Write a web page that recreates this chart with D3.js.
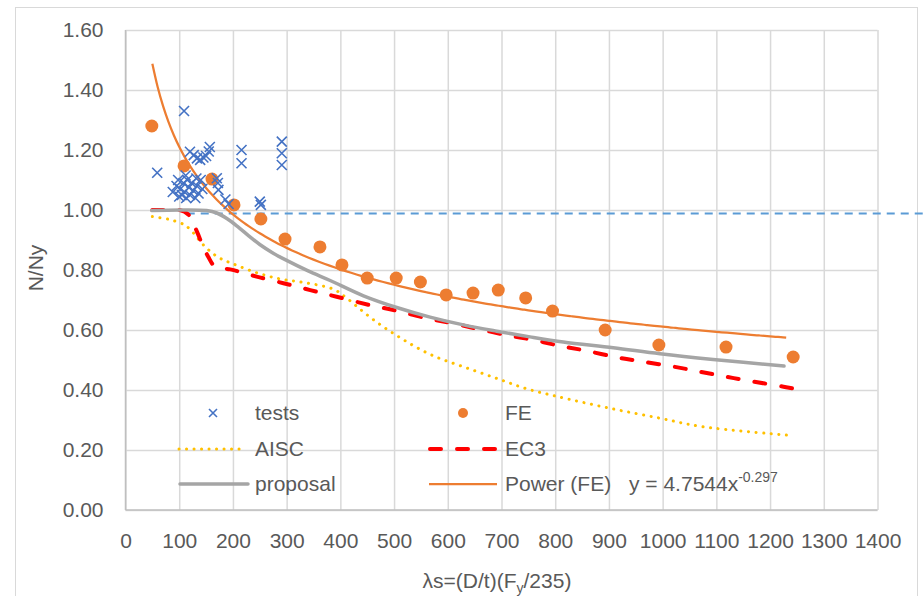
<!DOCTYPE html>
<html>
<head>
<meta charset="utf-8">
<script src="https://cdn.jsdelivr.net/npm/d3@7"></script>
<style>
  body { margin: 0; background: #fff; }
  text { font-family: "Liberation Sans", Arial, sans-serif; fill: #595959; }
</style>
</head>
<body>
<script>
// values
var xTicks = [0, 100, 200, 300, 400, 500, 600, 700, 800, 900, 1000, 1100, 1200, 1300, 1400];
var yTicks = [0, 0.2, 0.4, 0.6, 0.8, 1.0, 1.2, 1.4, 1.6];

var testsX = [59, 109, 120, 127, 133, 139, 145, 150, 155, 157, 216, 216, 291, 291, 291, 250, 252, 170, 172, 173, 186, 192,
  88, 95, 98, 102, 105, 108, 110, 113, 115, 118, 120, 123, 126, 130, 133, 136, 140, 143, 100, 112, 132];
var testsY = [1.124, 1.33, 1.194, 1.183, 1.172, 1.167, 1.175, 1.18, 1.195, 1.21, 1.20, 1.156, 1.228, 1.189, 1.15, 1.028, 1.017, 1.106, 1.09, 1.067, 1.035, 1.02,
  1.06, 1.08, 1.10, 1.07, 1.05, 1.09, 1.06, 1.04, 1.10, 1.075, 1.05, 1.09, 1.065, 1.04, 1.08, 1.055, 1.10, 1.07, 1.045, 1.115, 1.105];

var feX = [49, 109, 161, 202, 252, 297, 362, 403, 450, 504, 549, 597, 647, 694, 745, 795, 893, 993, 1118, 1243];
var feY = [1.28, 1.147, 1.103, 1.017, 0.97, 0.903, 0.877, 0.817, 0.773, 0.773, 0.76, 0.717, 0.723, 0.733, 0.707, 0.663, 0.60, 0.55, 0.543, 0.51];

var aiscX = [50, 80, 108, 120, 148, 173, 201, 244, 288, 330, 387, 412, 435, 458, 482, 508, 533, 559, 584, 641, 697, 745, 800, 902, 995, 1073, 1243];
var aiscY = [0.978, 0.969, 0.952, 0.936, 0.878, 0.842, 0.82, 0.791, 0.77, 0.759, 0.736, 0.706, 0.672, 0.639, 0.608, 0.578, 0.551, 0.526, 0.506, 0.47, 0.435, 0.405, 0.38, 0.339, 0.306, 0.278, 0.248];

var ec3X = [50, 70, 101, 117, 133, 142, 154, 167, 195, 213, 244, 294, 344, 393, 455, 505, 561, 610, 660, 710, 759, 809, 852, 915, 964, 1020, 1070, 1119, 1169, 1225, 1243];
var ec3Y = [1.0, 1.0, 1.0, 0.985, 0.928, 0.889, 0.844, 0.811, 0.802, 0.794, 0.778, 0.756, 0.733, 0.711, 0.683, 0.664, 0.639, 0.622, 0.602, 0.583, 0.567, 0.547, 0.533, 0.509, 0.494, 0.478, 0.461, 0.444, 0.428, 0.411, 0.405];

var propX = [49, 101, 151, 170, 190, 210, 230, 250, 275, 300, 340, 381, 443, 505, 567, 629, 691, 753, 815, 908, 995, 1094, 1226];
var propY = [0.998, 1.0, 0.998, 0.99, 0.97, 0.943, 0.913, 0.885, 0.856, 0.832, 0.797, 0.765, 0.714, 0.675, 0.643, 0.617, 0.596, 0.577, 0.56, 0.541, 0.521, 0.502, 0.48];

var refX = [114, 1490];
var refY = [0.988, 0.988];

// trendline shown in legend: y = 4.7544 x^-0.297
var powerCoef = [4.7544, -0.297];
var powerRange = [50, 1230];

var W = 924, H = 596;
var margin = { top: 30, right: 46.5, bottom: 86, left: 125.5 };
var width = W - margin.left - margin.right;
var height = H - margin.top - margin.bottom;

var svg = d3.select("body").append("svg")
  .attr("width", W)
  .attr("height", H);

// chart area border
svg.append("rect")
  .attr("x", 15.5).attr("y", 7.5)
  .attr("width", 902).attr("height", 620)
  .attr("fill", "none")
  .attr("stroke", "#d9d9d9");

var g = svg.append("g")
  .attr("transform", `translate(${margin.left}, ${margin.top})`);

var x = d3.scaleLinear().domain([0, 1400]).range([0, width]);
var y = d3.scaleLinear().domain([0, 1.6]).range([height, 0]);

// gridlines
g.append("g")
  .attr("transform", `translate(0, ${height})`)
  .call(d3.axisBottom(x).tickValues(xTicks).tickSize(-height).tickFormat(""))
  .call(a => a.select(".domain").remove())
  .call(a => a.selectAll("line").attr("stroke", "#d9d9d9").attr("stroke-width", 1.5));

g.append("g")
  .call(d3.axisLeft(y).tickValues(yTicks).tickSize(-width).tickFormat(""))
  .call(a => a.select(".domain").remove())
  .call(a => a.selectAll("line").attr("stroke", "#d9d9d9").attr("stroke-width", 1.5));

// axis lines
g.append("line").attr("x1", 0).attr("x2", 0).attr("y1", 0).attr("y2", height)
  .attr("stroke", "#bfbfbf").attr("stroke-width", 1.5);
g.append("line").attr("x1", 0).attr("x2", width).attr("y1", height).attr("y2", height)
  .attr("stroke", "#bfbfbf").attr("stroke-width", 1.5);

// tick labels
var xAxis = g.append("g")
  .attr("transform", `translate(0, ${height})`)
  .call(d3.axisBottom(x).tickValues(xTicks).tickSize(0).tickPadding(23).tickFormat(d3.format("d")));
xAxis.select(".domain").remove();
xAxis.selectAll("text").style("font-size", "21px").style("font-family", null).attr("fill", null);

var yAxis = g.append("g")
  .call(d3.axisLeft(y).tickValues(yTicks).tickSize(0).tickPadding(22).tickFormat(d3.format(".2f")));
yAxis.select(".domain").remove();
yAxis.selectAll("text").style("font-size", "21px").style("font-family", null).attr("fill", null);

// axis titles
svg.append("text")
  .attr("transform", "translate(43, 268) rotate(-90)")
  .attr("text-anchor", "middle")
  .style("font-size", "21px")
  .text("N/Ny");

var xt = svg.append("text")
  .attr("x", 497).attr("y", 588)
  .attr("text-anchor", "middle")
  .style("font-size", "21px");
xt.append("tspan").text("λs=(D/t)(F");
xt.append("tspan").attr("dy", 5).style("font-size", "14px").text("y");
xt.append("tspan").attr("dy", -5).text("/235)");

function pts(xs, ys) {
  return xs.map((d, i) => [d, ys[i]]);
}

var line = d3.line()
  .x(d => x(d[0]))
  .y(d => y(d[1]))
  .curve(d3.curveCatmullRom.alpha(0.5));

// reference line at 1.0 (runs past the plot area)
g.append("path")
  .datum(pts(refX, refY))
  .attr("d", d3.line().x(d => x(d[0])).y(d => y(d[1])))
  .attr("fill", "none")
  .attr("stroke", "#5b9bd5")
  .attr("stroke-width", 2)
  .attr("stroke-dasharray", "8 6");

// AISC
g.append("path")
  .datum(pts(aiscX, aiscY))
  .attr("d", line)
  .attr("fill", "none")
  .attr("stroke", "#ffc000")
  .attr("stroke-width", 3)
  .attr("stroke-linecap", "round")
  .attr("stroke-dasharray", "0.1 7.5");

// EC3
g.append("path")
  .datum(pts(ec3X, ec3Y))
  .attr("d", line)
  .attr("fill", "none")
  .attr("stroke", "#ff0000")
  .attr("stroke-width", 4)
  .attr("stroke-linecap", "round")
  .attr("stroke-dasharray", "11 16");

// proposal
g.append("path")
  .datum(pts(propX, propY))
  .attr("d", line)
  .attr("fill", "none")
  .attr("stroke", "#a5a5a5")
  .attr("stroke-width", 3.5)
  .attr("stroke-linecap", "round");

// power trendline
var trend = d3.range(powerRange[0], powerRange[1] + 1, 10)
  .map(v => [v, powerCoef[0] * Math.pow(v, powerCoef[1])]);
g.append("path")
  .datum(trend)
  .attr("d", line)
  .attr("fill", "none")
  .attr("stroke", "#ed7d31")
  .attr("stroke-width", 2.25);

// FE points
g.selectAll("circle.fe")
  .data(pts(feX, feY))
  .enter()
  .append("circle")
  .attr("class", "fe")
  .attr("cx", d => x(d[0]))
  .attr("cy", d => y(d[1]))
  .attr("r", 6.5)
  .attr("fill", "#ed7d31");

// tests (x markers)
g.selectAll("path.test")
  .data(pts(testsX, testsY))
  .enter()
  .append("path")
  .attr("class", "test")
  .attr("transform", d => `translate(${x(d[0])}, ${y(d[1])})`)
  .attr("d", function() {
    var s = 5;
    return `M${-s},${-s}L${s},${s}M${-s},${s}L${s},${-s}`;
  })
  .attr("fill", "none")
  .attr("stroke", "#4472c4")
  .attr("stroke-width", 1.6);

// legend
var lg = svg.append("g").style("font-size", "21px");

lg.append("path")
  .attr("d", "M209,409L217,417M209,417L217,409")
  .attr("stroke", "#4472c4").attr("stroke-width", 1.6);
lg.append("text").attr("x", 255).attr("y", 420).text("tests");

lg.append("circle").attr("cx", 463).attr("cy", 413).attr("r", 5).attr("fill", "#ed7d31");
lg.append("text").attr("x", 505).attr("y", 420).text("FE");

lg.append("line").attr("x1", 179).attr("x2", 246).attr("y1", 449).attr("y2", 449)
  .attr("stroke", "#ffc000").attr("stroke-width", 3)
  .attr("stroke-linecap", "round").attr("stroke-dasharray", "0.1 7.4");
lg.append("text").attr("x", 255).attr("y", 456).text("AISC");

lg.append("line").attr("x1", 430).attr("x2", 496).attr("y1", 449).attr("y2", 449)
  .attr("stroke", "#ff0000").attr("stroke-width", 4)
  .attr("stroke-linecap", "round").attr("stroke-dasharray", "11 16");
lg.append("text").attr("x", 505).attr("y", 456).text("EC3");

lg.append("line").attr("x1", 180).attr("x2", 248).attr("y1", 484).attr("y2", 484)
  .attr("stroke", "#a5a5a5").attr("stroke-width", 3.5).attr("stroke-linecap", "round");
lg.append("text").attr("x", 255).attr("y", 491).text("proposal");

lg.append("line").attr("x1", 429).attr("x2", 497).attr("y1", 484).attr("y2", 484)
  .attr("stroke", "#ed7d31").attr("stroke-width", 2.25);
var pt = lg.append("text").attr("x", 505).attr("y", 491);
pt.append("tspan").text("Power (FE)");
pt.append("tspan").attr("x", 629).text("y = 4.7544x");
pt.append("tspan").attr("dy", -9).style("font-size", "14px").text("-0.297");
</script>
</body>
</html>
